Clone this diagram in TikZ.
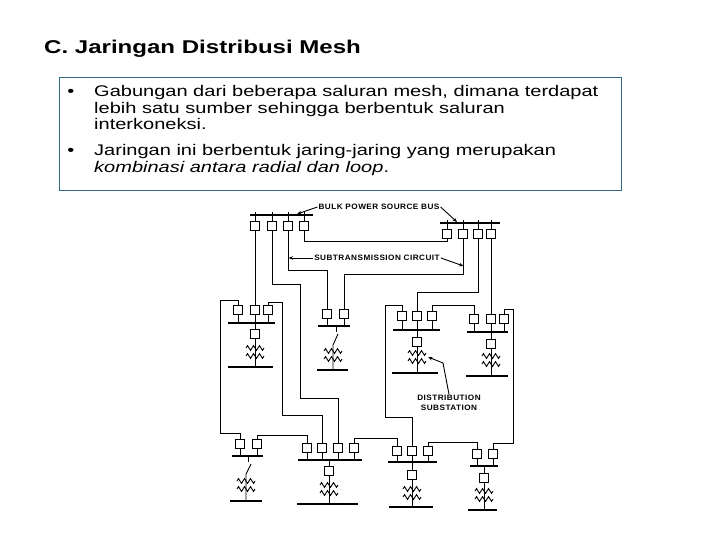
\documentclass[tikz,border=0pt]{standalone}
\usepackage{fontspec}
\setmainfont{Liberation Sans}
\newfontfamily\slidefont[FakeStretch=1.3]{Liberation Sans}
\newfontfamily\tagfont[FakeStretch=1.05,LetterSpace=6]{Liberation Sans}
\usetikzlibrary{arrows.meta}
\definecolor{boxblue}{RGB}{52,104,128}

\begin{document}
\begin{tikzpicture}[x=1pt,y=-1pt,
  brk/.style={draw,fill=white,line width=0.8pt,inner sep=0pt,minimum size=8.5pt},
  busbar/.style={fill=black,inner sep=0pt,minimum height=1.9pt},
  wire/.style={line width=0.9pt},
  tag/.style={font=\tagfont\bfseries\fontsize{7.8}{9.5}\selectfont,inner sep=1pt},
  ptr/.style={wire,-{Stealth[length=4.5pt,width=3.5pt]}},
  body/.style={font=\slidefont\fontsize{15.4}{16.2}\selectfont,inner sep=0pt},
  xfmr/.pic={
    \foreach \dy in {0,8}
      \draw[wire] (-9,\dy) -- (-7.5,\dy-2.4) -- (-4.5,\dy+2.4) -- (-1.5,\dy-2.4)
        -- (1.5,\dy+2.4) -- (4.5,\dy-2.4) -- (7.5,\dy+2.4) -- (9,\dy);}]
\useasboundingbox (0,0) rectangle (720,540);

\node[anchor=base west,inner sep=0pt,font=\slidefont\bfseries\fontsize{18.5}{22}\selectfont] (title) at (44,54) {C. Jaringan Distribusi Mesh};
\node[draw=boxblue,line width=1.2pt,minimum width=562pt,minimum height=113pt,inner sep=0pt,anchor=north west] (box) at (59,77) {};
\node[body,anchor=base] (dot1) at (71,97) {\textbullet};
\node[body,anchor=north west,align=left] (item1) at (94,85.6) {Gabungan dari beberapa saluran mesh, dimana terdapat\\lebih satu sumber sehingga berbentuk saluran\\interkoneksi.};
\node[body,anchor=base] (dot2) at (71,156) {\textbullet};
\node[body,anchor=north west,align=left] (item2) at (94,144.6) {Jaringan ini berbentuk jaring-jaring yang merupakan\\\textit{kombinasi antara radial dan loop}.};

\node[busbar,minimum width=63pt] (blbus) at (281.5,215) {};
\foreach \n/\x in {1/255,2/272,3/288,4/304}{
  \node[brk] (bl\n) at (\x,226) {};
  \draw[wire] (bl\n) -- ++(0,-14);}
\node[busbar,minimum width=60pt] (brbus) at (470,223) {};
\foreach \n/\x in {1/447,2/463,3/478,4/491}{
  \node[brk] (br\n) at (\x,234) {};
  \draw[wire] (br\n) -- ++(0,-14);}

\node[busbar,minimum width=47pt] (abus) at (251.5,323) {};
\foreach \n/\x in {1/238,2/255,3/268}{
  \node[brk] (a\n) at (\x,310) {};
  \draw[wire] (a\n) -- (a\n |- abus);}
\node[brk] (a0) at (255,334) {};
\node[busbar,minimum width=45pt] (alow) at (250.5,367) {};
\draw[wire] (abus -| a0) -- (a0) -- (a0 |- alow);
\pic at (255,348) {xfmr};

\node[busbar,minimum width=32pt] (mbus) at (334,326) {};
\foreach \n/\x in {1/327,2/344}{
  \node[brk] (m\n) at (\x,314) {};
  \draw[wire] (m\n) -- (m\n |- mbus);}
\node[busbar,minimum width=31pt] (mlow) at (332.5,370) {};
\coordinate (msw) at (333,345);
\draw[wire] (mbus -| 336,0) -- ++(0,6);
\draw[wire] (msw |- mlow) -- (msw) -- ++(5,-11);
\pic at (333,351) {xfmr};

\node[busbar,minimum width=47pt] (cbus) at (416.5,330) {};
\foreach \n/\x in {1/402,2/417,3/432}{
  \node[brk] (c\n) at (\x,316) {};
  \draw[wire] (c\n) -- (c\n |- cbus);}
\node[brk] (c0) at (417,342) {};
\node[busbar,minimum width=46pt] (clow) at (415,373) {};
\draw[wire] (cbus -| c0) -- (c0) -- (c0 |- clow);
\pic at (417,353) {xfmr};

\node[busbar,minimum width=41pt] (dbus) at (487.5,332) {};
\foreach \n/\x in {1/474,2/491,3/504}{
  \node[brk] (d\n) at (\x,319) {};
  \draw[wire] (d\n) -- (d\n |- dbus);}
\node[brk] (d0) at (491,344) {};
\node[busbar,minimum width=42pt] (dlow) at (487,376) {};
\draw[wire] (dbus -| d0) -- (d0) -- (d0 |- dlow);
\pic at (491,356) {xfmr};

\node[busbar,minimum width=31pt] (ebus) at (247.5,456) {};
\foreach \n/\x in {1/240,2/257}{
  \node[brk] (e\n) at (\x,444) {};
  \draw[wire] (e\n) -- (e\n |- ebus);}
\node[busbar,minimum width=32pt] (elow) at (246,501) {};
\coordinate (esw) at (246,474);
\draw[wire] (ebus -| 248,0) -- ++(0,6);
\draw[wire] (esw |- elow) -- (esw) -- ++(5,-10);
\pic at (246,481) {xfmr};

\node[busbar,minimum width=64pt] (fbus) at (330,460) {};
\foreach \n/\x in {1/307,2/322,3/338,4/354}{
  \node[brk] (f\n) at (\x,448) {};
  \draw[wire] (f\n) -- (f\n |- fbus);}
\node[brk] (f0) at (329,471) {};
\node[busbar,minimum width=61pt] (flow) at (327.5,504) {};
\draw[wire] (fbus -| f0) -- (f0) -- (f0 |- flow);
\pic at (329,485) {xfmr};

\node[busbar,minimum width=49pt] (gbus) at (412.5,462) {};
\foreach \n/\x in {1/397,2/412,3/428}{
  \node[brk] (g\n) at (\x,451) {};
  \draw[wire] (g\n) -- (g\n |- gbus);}
\node[brk] (g0) at (412,475) {};
\node[busbar,minimum width=44pt] (glow) at (411,507) {};
\draw[wire] (gbus -| g0) -- (g0) -- (g0 |- glow);
\pic at (412,489) {xfmr};

\node[busbar,minimum width=28pt] (hbus) at (484,466) {};
\foreach \n/\x in {1/477,2/493}{
  \node[brk] (h\n) at (\x,454) {};
  \draw[wire] (h\n) -- (h\n |- hbus);}
\node[brk] (h0) at (484,478) {};
\node[busbar,minimum width=29pt] (hlow) at (482.5,510) {};
\draw[wire] (hbus -| h0) -- (h0) -- (h0 |- hlow);
\pic at (484,491) {xfmr};

\draw[wire] (bl1) -- (a2);
\draw[wire] (bl2) |- (300,284) |- (338,398) -- (f3);
\draw[wire] (bl3) |- (327,270) -- (m1);
\draw[wire] (bl4) |- (447,241) -- (br1);
\draw[wire] (br2) |- (344,274) -- (m2);
\draw[wire] (br3) |- (417,292) -- (c2);
\draw[wire] (br4) -- (d2);
\draw[wire] (a1) |- (220,300) |- (240,433) -- (e1);
\draw[wire] (a3) |- (282,302) |- (322,415) -- (f2);
\draw[wire] (e2) |- (307,435) -- (f1);
\draw[wire] (f4) |- (397,438) -- (g1);
\draw[wire] (g3) |- (477,442) -- (h1);
\draw[wire] (c1) |- (385,305) |- (412,417) -- (g2);
\draw[wire] (c3) |- (474,305) -- (d1);
\draw[wire] (d3) |- (513,309) |- (493,443) -- (h2);

\node[tag] (bulk) at (379,207) {BULK POWER SOURCE BUS};
\coordinate (bltap) at (297,214);
\coordinate (brtap) at (457,222);
\draw[ptr] (bulk.west) -- (bltap);
\draw[ptr] (bulk.east) -- (brtap);
\node[tag] (subtx) at (377,258) {SUBTRANSMISSION CIRCUIT};
\coordinate (sttapl) at (288.5,258);
\coordinate (sttapr) at (463.5,266);
\draw[ptr] (subtx.west) -- (sttapl);
\draw[ptr] (subtx.east) -- (sttapr);
\node[tag,align=center] (dist) at (449,403) {DISTRIBUTION\\SUBSTATION};
\coordinate (disttap) at (428,357);
\draw[ptr] (dist.north) -- (443,363) -- (disttap);
\end{tikzpicture}
\end{document}
